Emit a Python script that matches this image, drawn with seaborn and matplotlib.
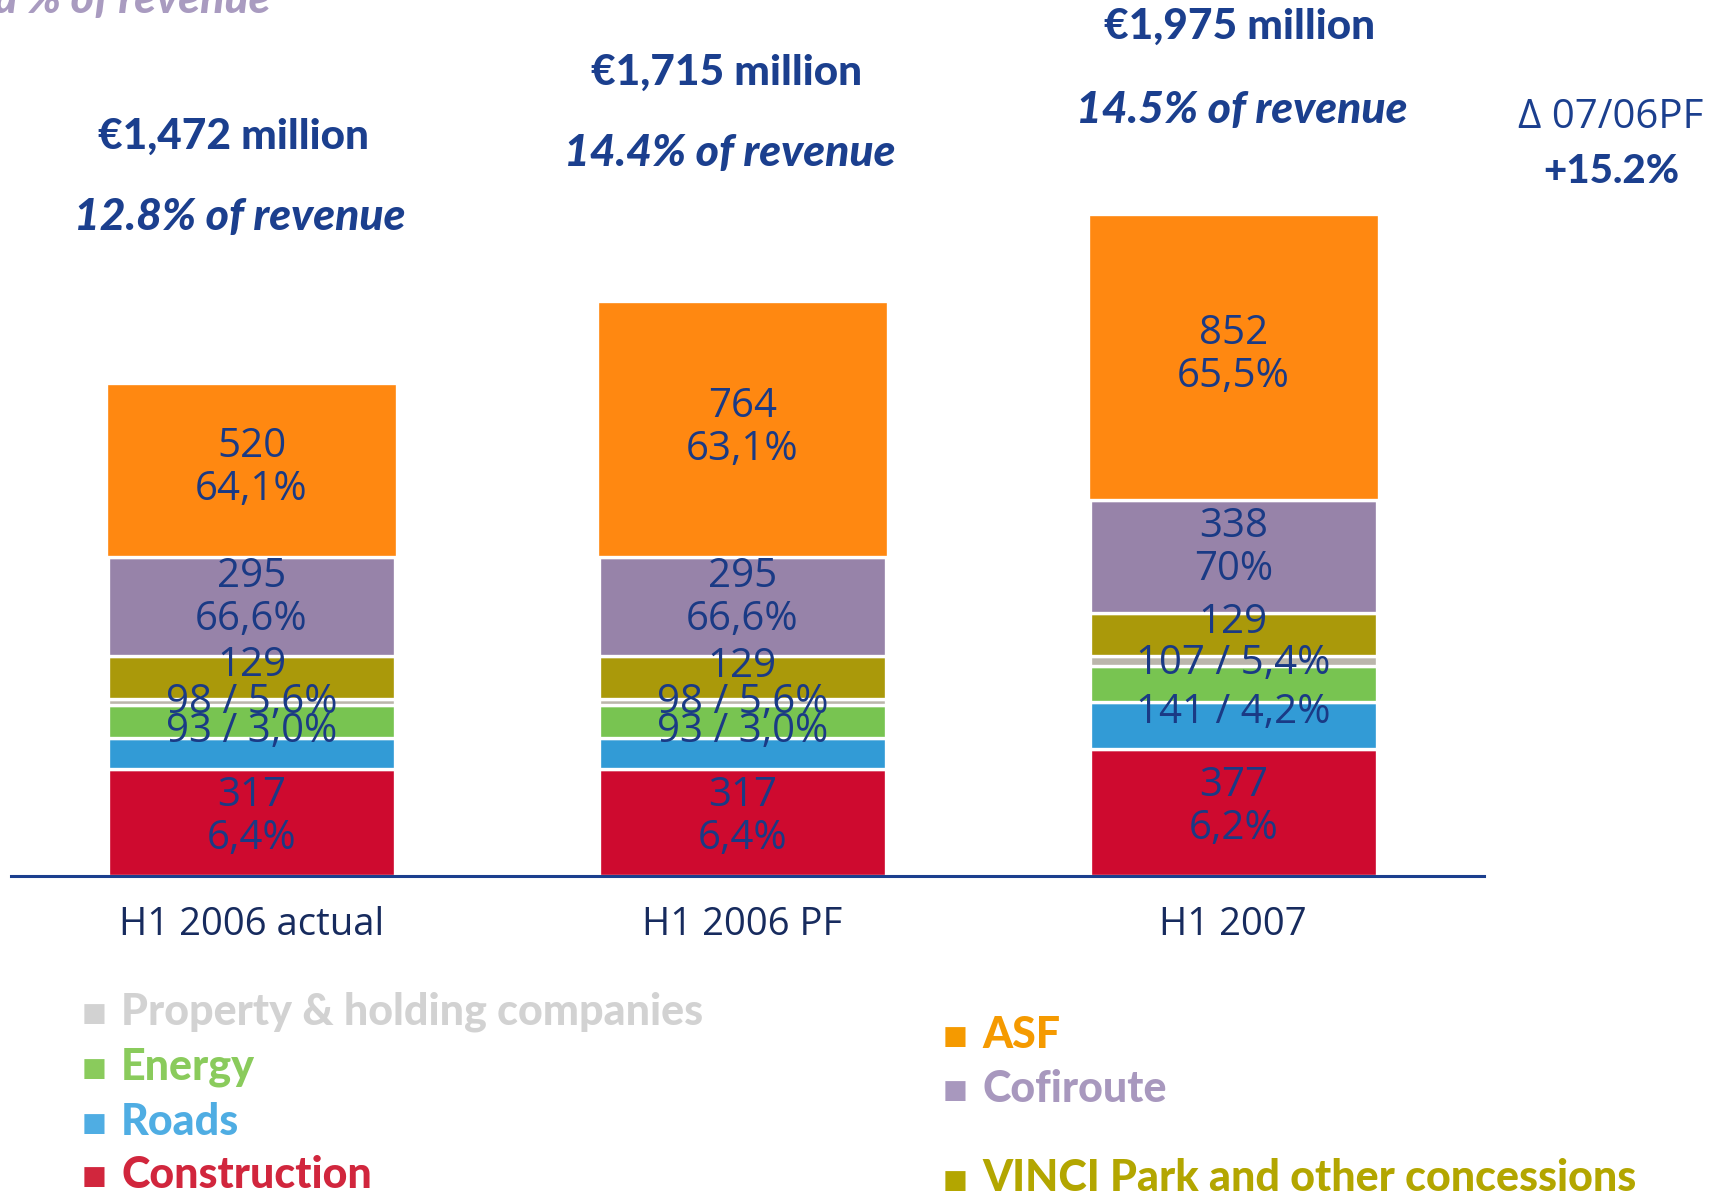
import numpy as np
import matplotlib
matplotlib.use("Agg")
import matplotlib.pyplot as plt
import seaborn as sns

# ---- data (EUR millions) ----
periods      = ["H1 2006 actual", "H1 2006 PF", "H1 2007"]
construction = [317, 317, 377]
roads        = [93, 93, 141]
energy       = [98, 98, 107]
property_hc  = [20, 19, 31]
vinci_park   = [129, 129, 129]
cofiroute    = [295, 295, 338]
asf          = [520, 764, 852]

construction_pct = ["6,4%", "6,4%", "6,2%"]
roads_pct        = ["3,0%", "3,0%", "4,2%"]
energy_pct       = ["5,6%", "5,6%", "5,4%"]
cofiroute_pct    = ["66,6%", "66,6%", "70%"]
asf_pct          = ["64,1%", "63,1%", "65,5%"]

totals      = [1472, 1715, 1975]
revenue_pct = [12.8, 14.4, 14.5]
delta_label = "+15.2%"

C = {
    "Construction": "#CE0A2F", "Roads": "#329BD6", "Energy": "#78C451",
    "Property": "#BBB6AC", "VINCI": "#AA990A", "Cofiroute": "#9783A9",
    "ASF": "#FF8811",
}
NAVY = "#1B3F8E"
LBL = "#1A3A85"
HEAD = ["Lato", "DejaVu Sans"]

sns.set_theme(style="white")
plt.rcParams["font.family"] = ["Open Sans", "DejaVu Sans"]

W, H = 1568, 1086   # reference coords used for placing slide text
fig = plt.figure(figsize=(17.27, 11.96), dpi=100, facecolor="white")
ax = fig.add_axes([10 / W, 1 - 795 / H, 1337 / W, 795 / H])

layers = [
    ("Construction", construction), ("Roads", roads), ("Energy", energy),
    ("Property", property_hc), ("VINCI", vinci_park),
    ("Cofiroute", cofiroute), ("ASF", asf),
]
bottom = np.zeros(3)
bottoms = {}
for name, vals in layers:
    vals = np.array(vals, dtype=float)
    bottoms[name] = bottom.copy()
    sns.barplot(x=periods, y=vals, bottom=bottom, color=C[name], saturation=1,
                width=0.592 if name == "ASF" else 0.585, errorbar=None,
                edgecolor="white", linewidth=2.4, ax=ax)
    bottom = bottom + vals

ax.set_xlim(-0.49, 2.51)
ax.set_ylim(0, 795 / 0.304)
ax.set_xlabel("")
ax.set_ylabel("")
ax.set_yticks([])
ax.set_xticks([0, 1, 2])
ax.set_xticklabels(periods, fontsize=27.5, color="#172B5E")
ax.tick_params(axis="x", length=0, pad=22)
for s in ["top", "left", "right"]:
    ax.spines[s].set_visible(False)
ax.spines["bottom"].set_color(NAVY)
ax.spines["bottom"].set_linewidth(2.2)

def lab(i, y, txt, dy=0):
    ax.annotate(txt, (i, y), xytext=(0, dy), textcoords="offset points",
                ha="center", va="center", fontsize=29, color=LBL,
                linespacing=1.08, annotation_clip=False)

roads_lift = [5, 5, -8]
for i in range(3):
    b = bottoms
    lab(i, b["Construction"][i] + construction[i] / 2, f"{construction[i]}\n{construction_pct[i]}", 4)
    lab(i, b["Roads"][i] + roads[i], f"{roads[i]} / {roads_pct[i]}", roads_lift[i])
    lab(i, b["Energy"][i] + energy[i], f"{energy[i]} / {energy_pct[i]}", 2)
    lab(i, b["VINCI"][i] + vinci_park[i] / 2, f"{vinci_park[i]}", 8)
    lab(i, b["Cofiroute"][i] + cofiroute[i] / 2, f"{cofiroute[i]}\n{cofiroute_pct[i]}", 6)
    lab(i, b["ASF"][i] + asf[i] / 2, f"{asf[i]}\n{asf_pct[i]}", 1)

# ---- headline text above bars ----
head_pos = [(212, 124, 218, 197), (660, 66, 663, 139), (1125, 24, 1127, 100)]
for (x1, y1, x2, y2), t, p in zip(head_pos, totals, revenue_pct):
    fig.text(x1 / W, 1 - y1 / H, f"€{t:,} million", ha="center", va="center",
             fontsize=30.5, fontweight="black", color=NAVY, family=HEAD)
    fig.text(x2 / W, 1 - y2 / H, f"{p}% of revenue", ha="center", va="center",
             fontsize=32, fontweight="black", style="italic", color=NAVY,
             family=HEAD)

fig.text(1462 / W, 1 - 107 / H, "Δ 07/06PF", ha="center", va="center",
         fontsize=29, color=NAVY, family=["Open Sans", "DejaVu Sans"])
fig.text(1463 / W, 1 - 156 / H, delta_label, ha="center", va="center",
         fontsize=29, fontweight="black", color=NAVY, family=HEAD)

# clipped subtitle at the very top of the slide
fig.text(246 / W, 1 - 12 / H, "as a % of revenue", ha="right", va="baseline",
         fontsize=32, fontweight="black", style="italic", color="#A99BC0",
         family=HEAD)

# ---- legend, two loose columns ----
legend_items = [
    ("Property & holding companies", "#D2D2D2", 85, 919),
    ("Energy", "#8ACB5C", 85, 969),
    ("Roads", "#4FADE3", 85, 1019),
    ("Construction", "#D1263D", 85, 1067),
    ("ASF", "#F59A00", 867, 940),
    ("Cofiroute", "#A898BE", 867, 989),
    ("VINCI Park and other concessions", "#B3A600", 867, 1070),
]
for txt, col, x, y in legend_items:
    fig.text(x / W, 1 - (y + 2) / H, "■", ha="center", va="center",
             fontsize=19, color=col, family="DejaVu Sans")
    fig.text((x + 25) / W, 1 - y / H, txt, ha="left", va="center",
             fontsize=31, fontweight="black", color=col, family=HEAD)

fig.savefig("out.png", dpi=100, facecolor="white")
